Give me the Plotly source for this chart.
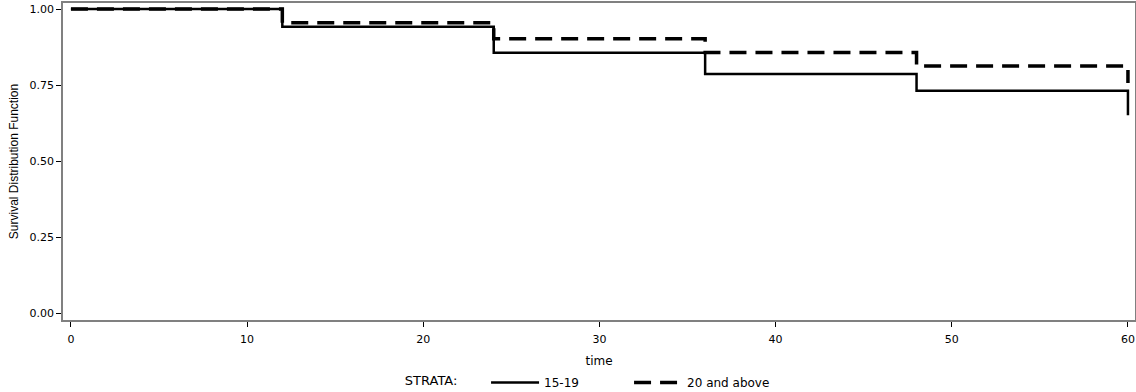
import plotly.graph_objects as go

times = [0, 12, 24, 36, 48, 60]
surv_15_19 = [1.0, 0.942, 0.856, 0.786, 0.731, 0.651]
surv_20_above = [1.0, 0.955, 0.902, 0.857, 0.813, 0.757]
x_ticks = [0, 10, 20, 30, 40, 50, 60]
y_ticks = [0.0, 0.25, 0.5, 0.75, 1.0]
y_tick_labels = ["0.00", "0.25", "0.50", "0.75", "1.00"]

FONT = "DejaVu Sans, Arial, sans-serif"
FONT_Y = "Liberation Sans, Arial, sans-serif"

fig = go.Figure()
fig.add_trace(go.Scatter(
    x=times, y=surv_15_19, mode="lines", line_shape="hv", name="15-19",
    line=dict(color="black", width=2.5)))
fig.add_trace(go.Scatter(
    x=times, y=surv_20_above, mode="lines", line_shape="hv", name="20 and above",
    line=dict(color="black", width=3.5, dash="17px,9px")))

fig.update_layout(
    width=1136, height=392,
    margin=dict(l=63, r=1, t=3, b=72, autoexpand=False),
    paper_bgcolor="white", plot_bgcolor="white",
    font=dict(family=FONT, size=11, color="black"),
    showlegend=True,
    legend=dict(
        orientation="h", x=0.317, xanchor="left", y=-0.197, yanchor="middle",
        title=dict(text="STRATA:\u00a0\u00a0\u00a0\u00a0\u00a0", font=dict(size=13)),
        font=dict(size=12), itemwidth=48, entrywidth=80,
        bgcolor="rgba(0,0,0,0)",
    ),
    xaxis=dict(
        range=[-0.45, 60.4], tickvals=x_ticks, ticks="outside", ticklen=5,
        tickcolor="black", showgrid=False, zeroline=False, automargin=False,
        showline=True, linecolor="#808080", linewidth=1.5, mirror=True,
        title=dict(text="time", font=dict(size=12), standoff=12),
        tickfont=dict(size=11), ticklabelstandoff=3,
    ),
    yaxis=dict(
        range=[-0.023, 1.02], tickvals=y_ticks, ticktext=y_tick_labels,
        ticks="outside", ticklen=5, tickcolor="black", showgrid=False,
        zeroline=False, showline=True, linecolor="#808080", linewidth=1.5,
        mirror=True, automargin=False,
        title=dict(text="Survival Distribution Function",
                   font=dict(size=12, family=FONT_Y), standoff=8),
        tickfont=dict(size=11),
    ),
)

fig.write_html("out.html")
